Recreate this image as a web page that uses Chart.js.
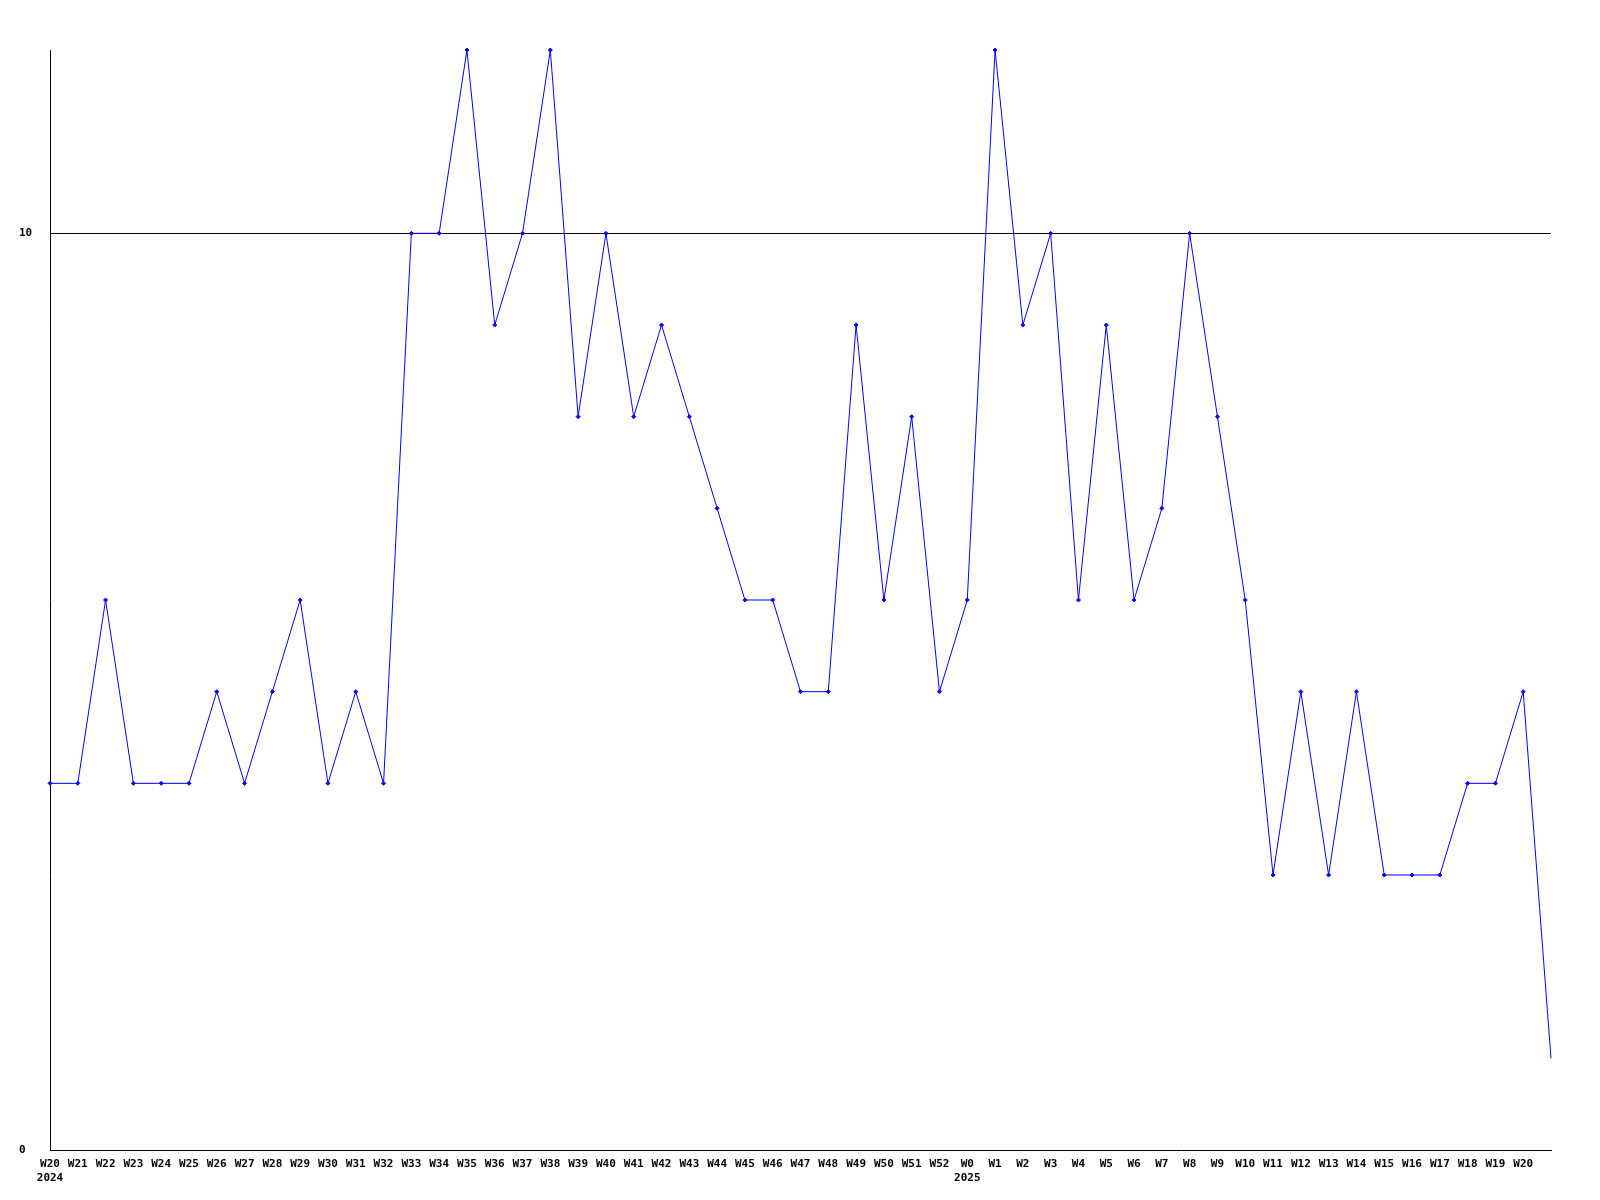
<!DOCTYPE html>
<html>
<head>
<meta charset="utf-8">
<script src="https://cdn.jsdelivr.net/npm/chart.js@4"></script>
<style>
  html, body { margin: 0; padding: 0; background: #fff; }
  #wrap { width: 1600px; height: 1200px; }
</style>
</head>
<body>
<div id="wrap"><canvas id="weekly"></canvas></div>
<script>
// week labels, 2024 W20 .. 2025 W20, plus one unlabeled trailing point
const weeks = [
  ['W20', '2024'], 'W21', 'W22', 'W23', 'W24', 'W25', 'W26', 'W27', 'W28', 'W29', 'W30',
  'W31', 'W32', 'W33', 'W34', 'W35', 'W36', 'W37', 'W38', 'W39', 'W40', 'W41', 'W42',
  'W43', 'W44', 'W45', 'W46', 'W47', 'W48', 'W49', 'W50', 'W51', 'W52',
  ['W0', '2025'], 'W1', 'W2', 'W3', 'W4', 'W5', 'W6', 'W7', 'W8', 'W9', 'W10',
  'W11', 'W12', 'W13', 'W14', 'W15', 'W16', 'W17', 'W18', 'W19', 'W20', ''
];
const counts = [
  4, 4, 6, 4, 4, 4, 5, 4, 5, 6, 4, 5, 4, 10, 10, 12, 9, 10, 12, 8, 10, 8, 9,
  8, 7, 6, 6, 5, 5, 9, 6, 8, 5,
  6, 12, 9, 10, 6, 9, 6, 7, 10, 8, 6, 3, 5, 3, 5, 3, 3, 3, 4, 4, 5, 1
];
const yTicks = [0, 10];
const yMax = 12;

const monoFont = { family: '"DejaVu Sans Mono", "Liberation Mono", monospace', size: 11, weight: 'bold' };

new Chart(document.getElementById('weekly'), {
  type: 'line',
  data: {
    labels: weeks,
    datasets: [{
      data: counts,
      borderColor: '#0000ff',
      backgroundColor: '#0000ff',
      borderWidth: 1,
      tension: 0,
      clip: false,
      pointStyle: 'rectRot',
      // the trailing (current, partial) week has no marker
      pointRadius: (c) => c.dataIndex === counts.length - 1 ? 0 : 2,
      pointBorderWidth: 1,
      fill: false
    }]
  },
  options: {
    responsive: true,
    maintainAspectRatio: false,
    animation: false,
    layout: { padding: { left: 19, top: 50, right: 49, bottom: 0 } },
    plugins: {
      legend: { display: false },
      tooltip: { enabled: false }
    },
    scales: {
      x: {
        offset: false,
        grid: { display: false, drawTicks: false },
        border: { display: true, color: '#000', width: 1 },
        ticks: {
          autoSkip: false,
          maxRotation: 0,
          minRotation: 0,
          padding: 8,
          color: '#000',
          font: monoFont
        },
        afterFit: (scale) => { scale.height = 50; }
      },
      y: {
        min: 0,
        max: yMax,
        afterBuildTicks: (scale) => { scale.ticks = yTicks.map(v => ({ value: v })); },
        grid: {
          color: (c) => c.tick && c.tick.value === 0 ? 'rgba(0,0,0,0)' : '#000',
          lineWidth: 1,
          drawTicks: false
        },
        border: { display: true, color: '#000', width: 1 },
        ticks: {
          crossAlign: 'far',
          padding: 17,
          color: '#000',
          font: monoFont
        },
        afterFit: (scale) => { scale.width = 31; }
      }
    }
  }
});
</script>
</body>
</html>
